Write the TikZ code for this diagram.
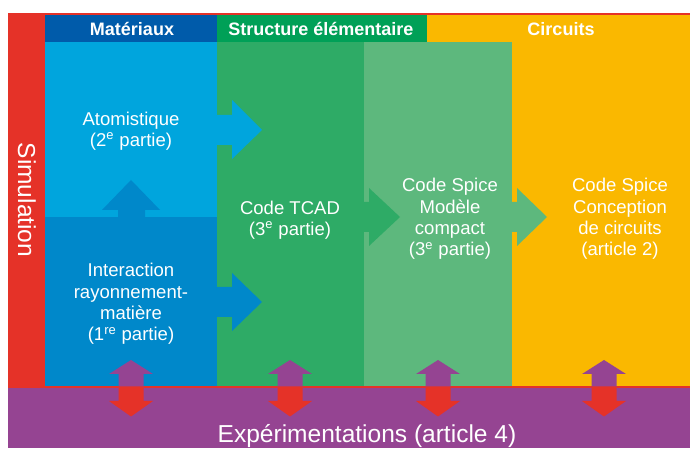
\documentclass[tikz,border=0pt]{standalone}
\usepackage{fontspec}
\setmainfont{Liberation Sans}
\definecolor{simred}{RGB}{229,50,40}
\definecolor{matblue}{RGB}{0,91,170}
\definecolor{atomblue}{RGB}{0,165,221}
\definecolor{interblue}{RGB}{0,136,202}
\definecolor{strgreen}{RGB}{0,160,87}
\definecolor{tcadgreen}{RGB}{46,171,102}
\definecolor{spicegreen}{RGB}{93,184,125}
\definecolor{circyellow}{RGB}{250,184,0}
\definecolor{expviolet}{RGB}{149,68,146}
\tikzset{
  boxtext/.style={text=white, align=center, inner sep=0.75pt, font=\fontsize{13.9}{16.1}\selectfont},
  headtext/.style={text=white, inner sep=0.75pt, font=\bfseries\fontsize{13.5}{16}\selectfont},
  bigtext/.style={text=white, inner sep=0.75pt, font=\fontsize{18.4}{22}\selectfont}
}
\begin{document}
\begin{tikzpicture}[x=0.75pt,y=0.75pt,yscale=-1,xscale=1]
        \useasboundingbox (0,0) rectangle (690,449);
        %Shape: Rectangle [simulation frame]
        \fill [simred] (8,13) rectangle (690,388) ;
        %Shape: Rectangle [experimentation band]
        \fill [expviolet] (8,388) rectangle (690,448) ;
        %Shape: Rectangle [headers]
        \fill [matblue] (45,15) rectangle (217,42) ;
        \fill [strgreen] (217,15) rectangle (427,42) ;
        \fill [circyellow] (427,15) rectangle (690,42) ;
        %Shape: Rectangle [columns]
        \fill [atomblue] (45,42) rectangle (217,217) ;
        \fill [interblue] (45,217) rectangle (217,386.5) ;
        \fill [tcadgreen] (217,42) rectangle (364,386.5) ;
        \fill [spicegreen] (364,42) rectangle (512,386.5) ;
        \fill [circyellow] (512,42) rectangle (690,386.5) ;
        %Shape: Right Arrow [atomistique]
        \fill [atomblue] (217,115) -- (232,115) -- (232,100) -- (262,130) -- (232,159) -- (232,145) -- (217,145) -- cycle ;
        %Shape: Up Arrow [interaction]
        \fill [interblue] (118,217) -- (118,210) -- (102,210) -- (131,180) -- (160,210) -- (145,210) -- (145,217) -- cycle ;
        %Shape: Right Arrow [interaction]
        \fill [interblue] (217,287) -- (232,287) -- (232,273) -- (262,302) -- (232,331) -- (232,317) -- (217,317) -- cycle ;
        %Shape: Right Arrow [tcad]
        \fill [tcadgreen] (363,202) -- (369,202) -- (369,188) -- (400,217) -- (369,246) -- (369,232) -- (363,232) -- cycle ;
        %Shape: Right Arrow [spice]
        \fill [spicegreen] (511,202) -- (517,202) -- (517,188) -- (547,217) -- (517,246) -- (517,232) -- (511,232) -- cycle ;
        %Shape: Up Arrow [exp 1]
        \fill [expviolet] (118.5,388) -- (118.5,374) -- (109,374) -- (131,360) -- (153,374) -- (143.5,374) -- (143.5,388) -- cycle ;
        %Shape: Down Arrow [exp 1]
        \fill [simred] (118.5,386.5) -- (118.5,401) -- (109,401) -- (131,416.5) -- (153,401) -- (143.5,401) -- (143.5,386.5) -- cycle ;
        %Shape: Up Arrow [exp 2]
        \fill [expviolet] (277.5,388) -- (277.5,374) -- (268,374) -- (290,360) -- (312,374) -- (302.5,374) -- (302.5,388) -- cycle ;
        %Shape: Down Arrow [exp 2]
        \fill [simred] (277.5,386.5) -- (277.5,401) -- (268,401) -- (290,416.5) -- (312,401) -- (302.5,401) -- (302.5,386.5) -- cycle ;
        %Shape: Up Arrow [exp 3]
        \fill [expviolet] (425.5,388) -- (425.5,374) -- (416,374) -- (438,360) -- (460,374) -- (450.5,374) -- (450.5,388) -- cycle ;
        %Shape: Down Arrow [exp 3]
        \fill [simred] (425.5,386.5) -- (425.5,401) -- (416,401) -- (438,416.5) -- (460,401) -- (450.5,401) -- (450.5,386.5) -- cycle ;
        %Shape: Up Arrow [exp 4]
        \fill [expviolet] (591.5,388) -- (591.5,374) -- (582,374) -- (604,360) -- (626,374) -- (616.5,374) -- (616.5,388) -- cycle ;
        %Shape: Down Arrow [exp 4]
        \fill [simred] (591.5,386.5) -- (591.5,401) -- (582,401) -- (604,416.5) -- (626,401) -- (616.5,401) -- (616.5,386.5) -- cycle ;

        % Text Node
        \node [headtext] (materiaux) at (132,29) {Matériaux};
        % Text Node
        \node [headtext] (structure) at (321,29) {Structure élémentaire};
        % Text Node
        \node [headtext] (circuits) at (561,29) {Circuits};
        % Text Node
        \node [bigtext, rotate=-90] (simulation) at (27,200) {Simulation};
        % Text Node
        \node [boxtext] (atomistique) at (131,131) {Atomistique\\(2\textsuperscript{e} partie)};
        % Text Node
        \node [boxtext] (interaction) at (131,304) {Interaction\\rayonnement-\\matière\\(1\textsuperscript{re} partie)};
        % Text Node
        \node [boxtext] (tcad) at (290,220) {Code TCAD\\(3\textsuperscript{e} partie)};
        % Text Node
        \node [boxtext] (compact) at (450,219) {Code Spice\\Modèle\\compact\\(3\textsuperscript{e} partie)};
        % Text Node
        \node [boxtext] (conception) at (620,219) {Code Spice\\Conception\\de circuits\\(article 2)};
        % Text Node
        \node [bigtext] (experimentations) at (367,436) {Expérimentations (article 4)};
\end{tikzpicture}
\end{document}
